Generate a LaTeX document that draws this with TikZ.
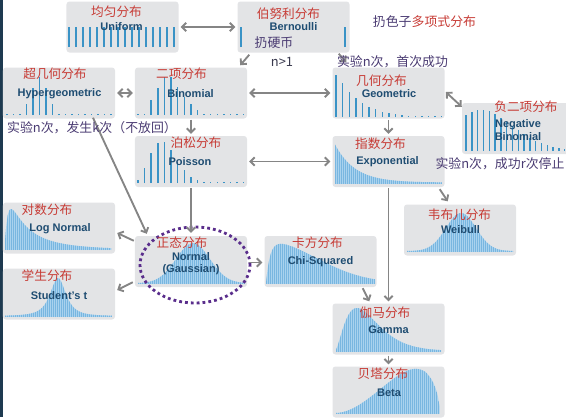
\documentclass[tikz,border=0pt]{standalone}
\usepackage{fontspec}
\setsansfont{Liberation Sans}
\newfontfamily\cjk{Noto Sans CJK SC}
\usetikzlibrary{arrows.meta,calc,shapes.geometric}
\definecolor{cBox}{HTML}{E3E4E6}
\definecolor{cBar}{HTML}{3A93C6}
\definecolor{cFill}{HTML}{A9D2EE}
\definecolor{cHatch}{HTML}{78B6E0}
\definecolor{cRed}{HTML}{C73B35}
\definecolor{cInk}{HTML}{1F4D72}
\definecolor{cNote}{HTML}{4A3B72}
\definecolor{cDark}{HTML}{3A3A4E}
\definecolor{cArrow}{HTML}{858585}
\definecolor{cRing}{HTML}{5A2E8C}
\definecolor{cEdge}{HTML}{1E3A50}

\begin{document}
\begin{tikzpicture}[
  x=0.03cm, y=-0.03cm,
  dbox/.style={rectangle, rounded corners=2.5pt, fill=cBox, inner sep=0pt,
    minimum width=3.36cm, minimum height=1.53cm},
  bar/.style={cBar, line width=1.2pt},
  hatch/.style={cHatch, line width=0.45pt},
  cntitle/.style={font=\cjk\fontsize{10.8}{12}\selectfont, text=cRed, inner sep=0pt},
  enname/.style={font=\sffamily\bfseries\fontsize{9.4}{10.2}\selectfont, text=cInk,
    inner sep=0pt, align=center},
  note/.style={font=\cjk\fontsize{11}{12}\selectfont, text=cNote, inner sep=0pt},
  arr/.style={cArrow, line width=1.6pt, -{Straight Barb[length=3.5pt,width=7pt]}},
  darr/.style={arr, {Straight Barb[length=3.5pt,width=7pt]}-{Straight Barb[length=3.5pt,width=7pt]}},
  ring/.style={ellipse, draw=cRing, line width=2.4pt, dash pattern=on 2.4pt off 2.6pt,
    minimum width=3.3cm, minimum height=2.28cm, inner sep=0pt},
]
\useasboundingbox (0,0) rectangle (566,417);
\clip (0,0) rectangle (566,417);
\fill[cEdge] (0,0) rectangle (2.5,417);
%
% ─── BOXES ───
\node[dbox] (unif)  at (122.5,27) {};
\node[dbox] (bern)  at (293.5,27) {};
\node[dbox] (hyper) at (59,93) {};
\node[dbox] (binom) at (191,93) {};
\node[dbox] (geom)  at (388.5,93) {};
\node[dbox, minimum width=3.54cm] (negb) at (521,128.5) {};
\node[dbox] (pois)  at (191,161.5) {};
\node[dbox] (expo)  at (388.5,161.5) {};
\node[dbox] (logn)  at (59,228) {};
\node[dbox] (stud)  at (59,294) {};
\node[dbox] (norm)  at (191,261.5) {};
\node[dbox] (chi)   at (320.5,261.5) {};
\node[dbox] (weib)  at (460,230) {};
\node[dbox] (gamma) at (388.5,329) {};
\node[dbox] (beta)  at (388.5,392) {};
%
% ─── DISCRETE ───
\foreach \i in {0,...,15} \draw[bar] ({69+7*\i},47) -- ++(0,-20);
\foreach \xb in {241,345} \draw[bar] (\xb,47) -- ++(0,-20);
\foreach \h [count=\i from 0] in {1.5,1.5,1.5,11,27,38,27,11,1.5,1.5,1.5,1.5,1.5,1.5,1.5,1.5,1.5}
  \draw[bar] ({7+6.5*\i},115) -- ++(0,-\h);
\foreach \h [count=\i from 0] in {1.5,1.5,15,27,38,38,28,18,11,5,1.5,1.5,1.5,1.5,1.5,1.5,1.5}
  \draw[bar] ({138+6.6*\i},115) -- ++(0,-\h);
\foreach \h [count=\i from 0] in {42,34,25,19,14,10,8,5,4,3,2,1.5,1.5,1.5,1.5,1.5,1.5}
  \draw[bar] ({336+6.6*\i},117) -- ++(0,-\h);
\foreach \h [count=\i from 0] in {36,39,41,41,40,37,33,29,25,21,17,13,10,8,6,4,3,2}
  \draw[bar] ({466+5.8*\i},151) -- ++(0,-\h);
\foreach \h [count=\i from 0] in {3,15,30,40,41,33,21,13,6,3,1.5,1.5,1.5,1.5,1.5,1.5,1.5}
  \draw[bar] ({138+6.6*\i},183) -- ++(0,-\h);
%
% ─── CONTINUOUS ───
% log normal
\begin{scope}
  \clip (5,250) -- plot[domain=5:111, samples=80] (\x,{250-41*exp(-(ln((\x-4)/7))*(ln((\x-4)/7))/2.42)}) -- (111,250) -- cycle;
  \fill[cFill] (4,200) rectangle (112,250);
  \foreach \xh in {5,7,...,111} \draw[hatch] (\xh,250) -- (\xh,200);
\end{scope}
% student
\begin{scope}
  \clip (5,317) -- plot[domain=5:112, samples=70] (\x,{317-1-38/((1+(\x-58)*(\x-58)/144)^1.5)}) -- (112,317) -- cycle;
  \fill[cFill] (4,270) rectangle (113,317);
  \foreach \xh in {5,7,...,111} \draw[hatch] (\xh,317) -- (\xh,270);
\end{scope}
% normal
\begin{scope}
  \clip (138,284) -- plot[domain=138:245, samples=70] (\x,{284-0.8-40*exp(-(\x-193)*(\x-193)/578)}) -- (245,284) -- cycle;
  \fill[cFill] (137,238) rectangle (246,284);
  \foreach \xh in {138,140,...,245} \draw[hatch] (\xh,284) -- (\xh,238);
\end{scope}
% chi squared
\begin{scope}
  \clip (266,284) -- plot[domain=266:375, samples=70] (\x,{284-1-42*(1-exp(-(\x-266)/4))*exp(-(\x-266)*(\x-266)/4900)}) -- (375,284) -- cycle;
  \fill[cFill] (265,238) rectangle (376,284);
  \foreach \xh in {266,268,...,375} \draw[hatch] (\xh,284) -- (\xh,238);
\end{scope}
% exponential
\begin{scope}
  \clip (335,184) -- plot[domain=335:442, samples=60] (\x,{184-1.5-38*exp(-(\x-335)/20)}) -- (442,184) -- cycle;
  \fill[cFill] (334,138) rectangle (443,184);
  \foreach \xh in {335,337,...,442} \draw[hatch] (\xh,184) -- (\xh,138);
\end{scope}
% weibull
\begin{scope}
  \clip (407,252) -- plot[domain=407:513, samples=60] (\x,{252-1-38*exp(-(\x-461)*(\x-461)/450)}) -- (513,252) -- cycle;
  \fill[cFill] (406,206) rectangle (514,252);
  \foreach \xh in {407,409,...,513} \draw[hatch] (\xh,252) -- (\xh,206);
\end{scope}
% gamma
\begin{scope}
  \clip (336,352) -- plot[domain=336:441, samples=70] (\x,{352-1-43*((\x-335)/22)^1.7*exp(1.7*(1-(\x-335)/22))}) -- (441,352) -- cycle;
  \fill[cFill] (335,305) rectangle (442,352);
  \foreach \xh in {336,338,...,441} \draw[hatch] (\xh,352) -- (\xh,305);
\end{scope}
% beta
\begin{scope}
  \clip (336,414) -- plot[domain=336:439.5, samples=70] (\x,{414-1-44*((\x-335)/105)^2*(1-(\x-335)/105)^0.6/0.245}) -- (439.5,414) -- cycle;
  \fill[cFill] (335,367) rectangle (441,414);
  \foreach \xh in {336,338,...,439} \draw[hatch] (\xh,414) -- (\xh,367);
\end{scope}
%
\node[ring] (gauss) at (195,265) {};
%
% ─── ARROWS ───
\draw[darr] ($(unif.east)+(2,0)$) -- ($(bern.west)+(-2,0)$);
\draw[arr] ($(bern.south west)+(12,2)$) -- ($(binom.north east)+(-7,-2)$);
\draw[arr] ($(bern.south east)+(-11,1)$) -- ($(geom.north west)+(14,-5)$);
\draw[darr] ($(hyper.east)+(2,0)$) -- ($(binom.west)+(-2,0)$);
\draw[darr] ($(binom.east)+(2,0)$) -- ($(geom.west)+(-2,0)$);
\draw[arr] ($(binom.south)+(0,1)$) -- ($(pois.north)+(0,-2)$);
\draw[darr] ($(geom.east)+(1,-1)$) -- ($(negb.north west)+(0,4)$);
\draw[arr] ($(geom.south)+(0,1)$) -- ($(expo.north)+(0,-2)$);
\draw[darr] ($(pois.east)+(2,0)$) -- ($(expo.west)+(-2,0)$);
\draw[arr] ($(hyper.south)+(34,-1)$) -- ($(norm.north west)+(12,-2)$);
\draw[arr] ($(pois.south)+(0,1)$) -- ($(norm.north)+(0,-3)$);
\draw[arr] ($(norm.north west)+(-1,5)$) -- ($(logn.east)+(2,5)$);
\draw[arr] ($(norm.south west)+(-2,-5)$) -- ($(stud.east)+(2,-4)$);
\draw[arr] ($(norm.east)+(2,1)$) -- ($(chi.west)+(-2,1)$);
\draw[arr] ($(expo.south east)+(-5,2)$) -- ($(weib.north west)+(44,-3)$);
\draw[arr] ($(expo.south)+(0,1)$) -- ($(gamma.north)+(0,-2)$);
\draw[arr] ($(chi.south east)+(-14,1)$) -- ($(gamma.north west)+(37,-2)$);
\draw[arr] ($(gamma.south)+(0,1)$) -- ($(beta.north)+(0,-2)$);
%
% ─── LABELS ───
\node[cntitle] (unif-t) at (116.5,12) {均匀分布};
\node[enname]  (unif-n) at (121.5,27) {Uniform};
\node[cntitle] (bern-t) at (288.5,14) {伯努利分布};
\node[enname]  (bern-n) at (293.5,27) {Bernoulli};
\node[note]    (bern-c) at (274,43) {扔硬币};
\node[note, text=cDark] (bern-k) at (282,62) {n>1};
\node[note]    (dice)   at (424.5,22) {扔色子{\color{cRed}多项式分布}};
\node[note]    (geom-c) at (392.5,62) {实验n次，首次成功};
\node[cntitle] (hyper-t) at (55,74) {超几何分布};
\node[enname]  (hyper-n) at (59.5,94) {Hypergeometric};
\node[note]    (hyper-c) at (92,128) {实验n次，发生k次（不放回）};
\node[cntitle] (binom-t) at (181.5,74) {二项分布};
\node[enname]  (binom-n) at (190.5,94) {Binomial};
\node[cntitle] (geom-t) at (381.5,81) {几何分布};
\node[enname]  (geom-n) at (389,94) {Geometric};
\node[cntitle] (negb-t) at (526,107) {负二项分布};
\node[enname, font=\sffamily\bfseries\fontsize{9.4}{11}\selectfont] (negb-n) at (518,130.5) {Negative\\Binomial};
\node[note]    (negb-c) at (500,164) {实验n次，成功r次停止};
\node[cntitle] (pois-t) at (196,143) {泊松分布};
\node[enname]  (pois-n) at (190,162) {Poisson};
\node[cntitle] (expo-t) at (380.5,144) {指数分布};
\node[enname]  (expo-n) at (387.5,162) {Exponential};
\node[cntitle] (logn-t) at (47,210) {对数分布};
\node[enname]  (logn-n) at (60,229) {Log Normal};
\node[cntitle] (stud-t) at (47,276) {学生分布};
\node[enname]  (stud-n) at (59,296) {Student’s t};
\node[cntitle] (norm-t) at (182,243) {正态分布};
\node[enname]  (norm-n) at (191,264) {Normal\\(Gaussian)};
\node[cntitle] (chi-t) at (317.5,243) {卡方分布};
\node[enname]  (chi-n) at (320.5,262) {Chi-Squared};
\node[cntitle] (weib-t) at (459.5,215) {韦布儿分布};
\node[enname]  (weib-n) at (460.5,230) {Weibull};
\node[cntitle] (gamma-t) at (385,313) {伽马分布};
\node[enname]  (gamma-n) at (388.5,330) {Gamma};
\node[cntitle] (beta-t) at (383,374) {贝塔分布};
\node[enname]  (beta-n) at (389,393) {Beta};

\end{tikzpicture}
\end{document}
